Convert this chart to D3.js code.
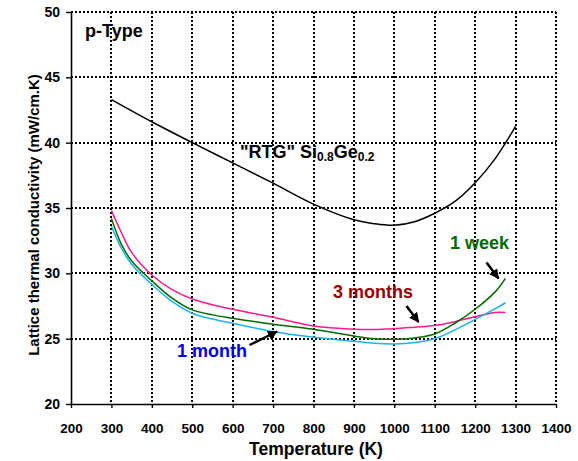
<!DOCTYPE html>
<html>
<head>
<meta charset="utf-8">
<script src="https://cdn.jsdelivr.net/npm/d3@7/dist/d3.min.js"></script>
<style>
  body { margin: 0; background: #fff; }
  svg { display: block; font-family: "Liberation Sans", Arial, sans-serif; }
  .tick text { font-weight: bold; fill: #000; }
</style>
</head>
<body>
<svg id="chart" width="578" height="461"></svg>
<script>
// ---- data ----
const xTicks = [200, 300, 400, 500, 600, 700, 800, 900, 1000, 1100, 1200, 1300, 1400];
const yTicks = [20, 25, 30, 35, 40, 45, 50];

// "RTG" Si0.8Ge0.2 reference curve
const rtgT   = [300, 400, 500, 600, 700, 800, 900, 950, 1000, 1050, 1100, 1150, 1200, 1250, 1300];
const rtgK   = [43.3, 41.6, 40.0, 38.45, 36.9, 35.3, 34.1, 33.8, 33.68, 33.95, 34.6, 35.5, 36.93, 38.8, 41.25];

// annealed samples
const sampT    = [300, 325, 350, 400, 450, 500, 550, 600, 700, 800, 900, 950, 1000, 1050, 1100, 1150, 1200, 1250, 1275];
const months3K = [34.8, 33.1, 31.6, 29.87, 28.75, 28.04, 27.6, 27.25, 26.64, 25.97, 25.72, 25.7, 25.77, 25.88, 26.0, 26.3, 26.68, 27.0, 27.0];
const week1K   = [34.2, 32.2, 30.95, 29.43, 28.1, 27.2, 26.82, 26.56, 26.1, 25.72, 25.2, 25.0, 24.95, 25.05, 25.36, 26.18, 27.25, 28.6, 29.62];
const month1K  = [33.6, 31.9, 30.7, 29.16, 27.85, 26.95, 26.5, 26.18, 25.54, 25.1, 24.8, 24.65, 24.6, 24.7, 25.0, 25.67, 26.48, 27.3, 27.75];

const series = [
  { name: '3 months', k: months3K, color: '#ff1a8c' },
  { name: '1 week',   k: week1K,   color: '#006a00' },
  { name: '1 month',  k: month1K,  color: '#1ab2ee' }
];

const svg = d3.select('#chart');
const x = d3.scaleLinear().domain([200, 1400]).range([71, 556]);
const y = d3.scaleLinear().domain([20, 50]).range([404, 12]);

// dotted grid (also forms top and right frame)
const grid = svg.append('g').attr('stroke', '#000').attr('stroke-width', 1.5)
  .attr('stroke-dasharray', '2,2').attr('fill', 'none').attr('shape-rendering', 'crispEdges');
xTicks.filter(t => t > 200).forEach(t => {
  const px = Math.round(x(t));
  grid.append('line').attr('x1', px).attr('x2', px).attr('y1', y(50)).attr('y2', y(20));
});
yTicks.filter(t => t > 20).forEach(t => {
  const py = Math.round(y(t));
  grid.append('line').attr('x1', x(200)).attr('x2', x(1400)).attr('y1', py).attr('y2', py);
});

// axes
const xAxis = svg.append('g').attr('transform', `translate(0,${y(20)})`)
  .call(d3.axisBottom(x).tickValues(xTicks).tickFormat(d3.format('d'))
    .tickSize(4).tickSizeOuter(0).tickPadding(15));
const yAxis = svg.append('g').attr('transform', `translate(${x(200)},0)`)
  .call(d3.axisLeft(y).tickValues(yTicks).tickSize(5).tickSizeOuter(0).tickPadding(6));
xAxis.selectAll('text').style('font-size', '13.5px');
yAxis.selectAll('text').style('font-size', '14px');
[xAxis, yAxis].forEach(a => {
  a.select('.domain').attr('stroke', '#000').attr('stroke-width', 1.6);
  a.selectAll('.tick line').attr('stroke', '#000').attr('stroke-width', 1.4);
});

// axis titles
svg.append('text').attr('x', 316).attr('y', 455).attr('text-anchor', 'middle')
  .style('font-size', '17.5px').style('font-weight', 'bold').text('Temperature (K)');
svg.append('text').attr('transform', 'translate(39,215) rotate(-90)').attr('text-anchor', 'middle')
  .style('font-size', '15px').style('font-weight', 'bold').text('Lattice thermal conductivity (mW/cm.K)');

// curves
const line = d3.line().curve(d3.curveCatmullRom.alpha(0.5)).x(d => x(d[0])).y(d => y(d[1]));
svg.append('path').datum(rtgT.map((t, i) => [t, rtgK[i]]))
  .attr('d', line).attr('fill', 'none').attr('stroke', '#000').attr('stroke-width', 1.5);
series.forEach(s => {
  svg.append('path').datum(sampT.map((t, i) => [t, s.k[i]]))
    .attr('d', line).attr('fill', 'none').attr('stroke', s.color).attr('stroke-width', 1.5);
});

// labels
const lbl = (tx, ty, txt, col) => svg.append('text').attr('x', tx).attr('y', ty)
  .style('font-size', '18px').style('font-weight', 'bold').attr('fill', col).text(txt);
lbl(85, 37, 'p-Type', '#000');
lbl(450, 249, '1 week', '#006a00');
lbl(333, 298, '3 months', '#990000');
lbl(177, 357, '1 month', '#0000f0');

const rtg = svg.append('text').attr('x', 240).attr('y', 158)
  .style('font-size', '18px').style('font-weight', 'bold').attr('fill', '#000');
rtg.append('tspan').text('"RTG" Si');
rtg.append('tspan').attr('dy', 3).style('font-size', '12px').text('0.8');
rtg.append('tspan').attr('dy', -3).text('Ge');
rtg.append('tspan').attr('dy', 3).style('font-size', '12px').text('0.2');

// arrows
svg.append('defs').append('marker').attr('id', 'ah').attr('viewBox', '0 0 10 10')
  .attr('refX', 9).attr('refY', 5).attr('markerWidth', 4).attr('markerHeight', 4)
  .attr('orient', 'auto').append('path').attr('d', 'M0,0 L10,5 L0,10 Z').attr('fill', '#000');
const arrow = (x1, y1, x2, y2) => svg.append('line').attr('x1', x1).attr('y1', y1)
  .attr('x2', x2).attr('y2', y2).attr('stroke', '#000').attr('stroke-width', 2.5)
  .attr('marker-end', 'url(#ah)');
arrow(486.5, 262.5, 498.5, 278.5);
arrow(406.5, 306, 418.5, 322);
arrow(249.5, 345, 277, 331.5);
</script>
</body>
</html>
